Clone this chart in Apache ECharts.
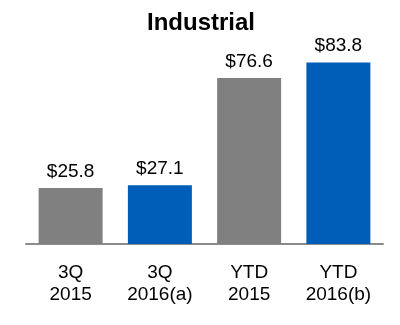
<!DOCTYPE html>
<html><head><meta charset="utf-8">
<script src="https://cdn.jsdelivr.net/npm/echarts@6/dist/echarts.min.js"></script>
<style>html,body{margin:0;padding:0;background:#fff}#c{width:400px;height:325px}</style>
</head><body><div id="c"></div>
<script>
var categories = ['3Q\n2015', '3Q\n2016(a)', 'YTD\n2015', 'YTD\n2016(b)'];
var values = [25.8, 27.1, 76.6, 83.8];
var barColors = ['#808080', '#005EB8', '#808080', '#005EB8'];
var chart = echarts.init(document.getElementById('c'), null, {renderer: 'canvas'});
chart.setOption({
  animation: false,
  title: {text: 'Industrial', left: 196, textAlign: 'center', top: 6,
    textStyle: {fontFamily: 'Liberation Sans, Arial', fontWeight: 'bold', fontSize: 24, color: '#000'}},
  grid: {left: 26, right: 17, top: 49, bottom: 81},
  xAxis: {type: 'category', data: categories,
    axisLine: {lineStyle: {color: '#8c8c8c', width: 2}},
    axisTick: {show: false},
    axisLabel: {margin: 18, fontFamily: 'Liberation Sans, Arial', fontSize: 19, lineHeight: 22, color: '#000'}},
  yAxis: {type: 'value', min: 0, max: 90, show: false, splitLine: {show: false}},
  series: [{type: 'bar', barWidth: 64,
    data: values.map(function(v, i){ return {value: v, itemStyle: {color: barColors[i]}}; }),
    label: {show: true, position: 'top', distance: 7, formatter: function(p){ return '$' + p.value.toFixed(1); },
      fontFamily: 'Liberation Sans, Arial', fontSize: 19, color: '#000'}}]
});
</script></body></html>
